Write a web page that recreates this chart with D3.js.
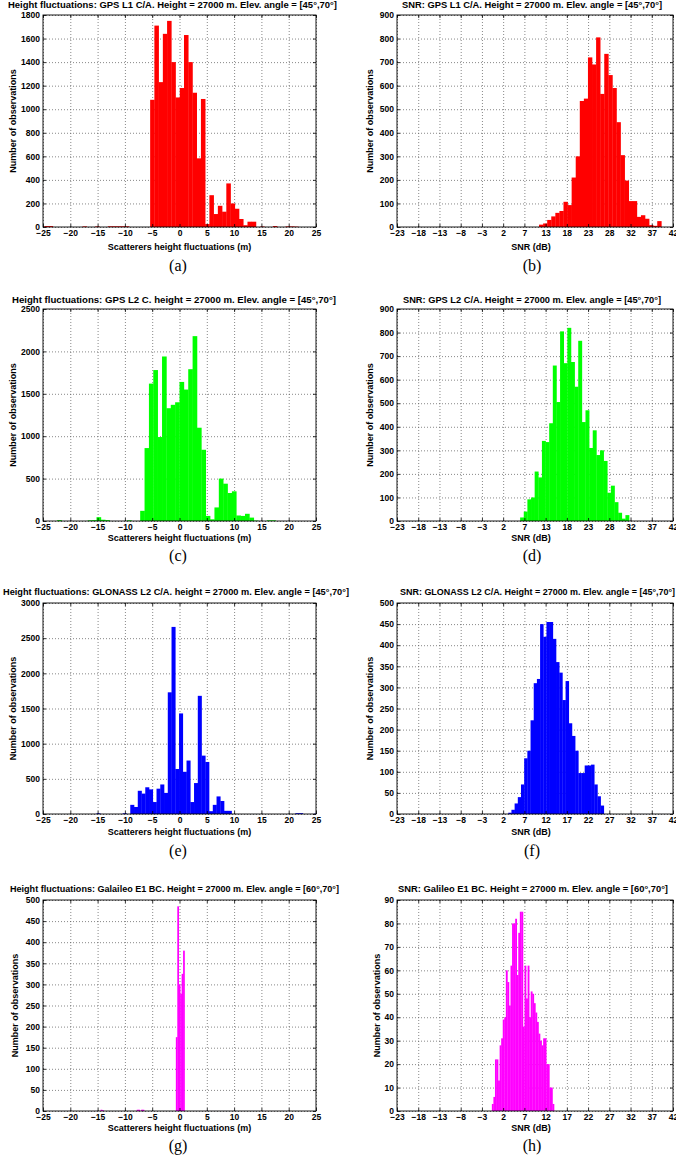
<!DOCTYPE html>
<html>
<head>
<meta charset="utf-8">
<script src="https://cdn.jsdelivr.net/npm/d3@7"></script>
<style>
  body { margin: 0; background: #fff; }
  svg text { font-family: "Liberation Sans", Arial, sans-serif; }
</style>
</head>
<body>
<script>
// ---- axis ticks ----
const heightTicks = d3.range(-25, 26, 5);
const heightLabels = ["−25", "−20", "−15", "−10", "−5", "0", "5", "10", "15", "20", "25"];
const snrTicks = d3.range(-23, 43, 5);
const snrLabelsGps = ["−23", "−18", "−13", "−8", "−3", "2", "7", "13", "18", "23", "28", "32", "37", "42"];
const snrLabelsOther = ["−23", "−18", "−13", "−8", "−3", "2", "7", "12", "17", "22", "27", "32", "37", "42"];

// ---- histograms: first bin edge, bin width, counts ----
// (a) GPS L1 height fluctuations
const aStart = -24.75, aWidth = 0.775;
const aCounts = [8, 8, 0, 0, 0, 0, 0, 0, 0, 5, 0, 0, 5, 0, 0, 6, 6, 6, 6, 6, 0, 0, 0, 0, 0,
  1080, 1710, 1230, 1640, 1750, 1400, 1100, 1180, 1630, 1400, 1140, 583, 1087, 25, 270, 110, 180, 130, 370, 200, 155, 68, 15, 45, 45,
  0, 4, 0, 0, 8, 0, 0, 5, 5, 3];
// (b) GPS L1 SNR
const bStart = 10.45, bWidth = 0.96;
const bCounts = [10, 15, 30, 45, 60, 68, 107, 93, 210, 300, 535, 545, 720, 690, 805, 565, 735, 645, 590, 445,
  305, 197, 110, 110, 43, 50, 35, 8, 5, 25];
// (c) GPS L2 height fluctuations
const cStart = -22.4, cWidth = 0.8;
const cCounts = [10, 0, 0, 0, 0, 0, 0, 8, 10, 45, 15, 10, 0, 0, 0, 0, 8, 0, 0,
  120, 860, 1620, 1780, 990, 1940, 1330, 1370, 1400, 1640, 1550, 1790, 2180, 1100, 840, 60, 20, 160, 500, 440, 330, 350, 65, 60, 85, 40,
  5, 0, 0, 8, 8];
// (d) GPS L2 SNR
const dStart = 6.0, dWidth = 0.855;
const dCounts = [15, 40, 92, 100, 210, 185, 340, 335, 415, 660, 505, 805, 670, 820, 675, 570, 765, 420, 470, 310,
  385, 280, 300, 255, 120, 150, 80, 35, 10, 25];
// (e) GLONASS L2 height fluctuations
const eStart = -15.2, eWidth = 0.687;
const eCounts = [10, 0, 0, 0, 0, 0, 0, 10, 0,
  130, 100, 330, 290, 380, 350, 170, 360, 420, 300, 1730, 2660, 640, 1430, 600, 760, 170, 440, 1680, 830, 740, 40, 130, 250, 185, 45, 45,
  0, 0, 0, 0, 0, 0, 0, 0, 0, 0, 0, 0, 0, 0, 0, 0, 0, 12, 12, 0, 0, 0, 5];
// (f) GLONASS L2 SNR
const fStart = 3.2, fWidth = 0.75;
const fCounts = [3, 10, 25, 40, 70, 132, 150, 222, 310, 320, 450, 420, 455, 455, 415, 360, 335, 270, 315, 215,
  185, 150, 97, 97, 115, 115, 117, 70, 42, 20];
// (g) Galileo E1 height fluctuations
const gStart = -14.45, gWidth = 0.265;
const gCounts = [3, 2, 0, 0, 0, 0, 0, 0, 0, 0, 0, 0, 0, 0, 0, 0, 0, 0, 0, 0, 0, 0, 0, 0, 0,
  3, 3, 0, 3, 3, 0, 0, 0, 0, 0, 0, 0, 0, 0, 0, 0, 0, 0, 0, 0, 0, 0, 0, 0, 0, 0, 0,
  175, 485, 300, 278, 325, 380];
// (h) Galileo E1 SNR
const hStart = -0.66, hWidth = 0.366;
const hCounts = [3, 6, 22, 22, 13, 28, 31, 39, 40, 60, 55, 45, 62, 80, 80, 82, 58, 76, 85, 85,
  36, 62, 48, 62, 40, 51, 50, 46, 42, 38, 33, 30, 28, 31, 31, 20, 20, 10, 10, 3];

// ---- text ----
const titles = [
  "Height fluctuations: GPS L1 C/A. Height = 27000 m. Elev. angle = [45°,70°]",
  "SNR: GPS L1 C/A. Height = 27000 m. Elev. angle = [45°,70°]",
  "Height fluctuations: GPS L2 C. height = 27000 m. Elev. angle = [45°,70°]",
  "SNR: GPS L2 C/A. Height = 27000 m. Elev. angle = [45°,70°]",
  "Height fluctuations: GLONASS L2 C/A. height = 27000 m. Elev. angle = [45°,70°]",
  "SNR: GLONASS L2 C/A. Height = 27000 m. Elev. angle = [45°,70°]",
  "Height fluctuations: Galaileo E1 BC. Height = 27000 m. Elev. angle = [60°,70°]",
  "SNR: Galileo E1 BC. Height = 27000 m. Elev. angle = [60°,70°]"
];
const letters = ["(a)", "(b)", "(c)", "(d)", "(e)", "(f)", "(g)", "(h)"];
const yMaxes = [1800, 900, 2500, 900, 3000, 500, 500, 90];
const ySteps = [200, 100, 500, 100, 500, 50, 50, 10];

// ---- layout ----
const w = 676, h = 1168;
const colLeft = [43, 397], colRight = [316, 673];
const rowTop = [15, 309, 603, 900], rowBottom = [227, 521, 814, 1111];
const titleY = [8, 303, 595, 892];
const titleCx = [172.5, 532, 174, 532, 176, 537.5, 174.5, 533];
const titleLen = [329, 260, 324, 258, 346, 275, 329, 270];
const yLabelX = [16, 373, 16, 373, 16, 373, 18, 380];
const xLabelY = [250, 541, 835, 1131];
const letterY = [271, 561, 856, 1151];
const colors = ["#ff0000", "#00ff00", "#0000ff", "#ff00ff"];

const hists = [
  [aStart, aWidth, aCounts], [bStart, bWidth, bCounts],
  [cStart, cWidth, cCounts], [dStart, dWidth, dCounts],
  [eStart, eWidth, eCounts], [fStart, fWidth, fCounts],
  [gStart, gWidth, gCounts], [hStart, hWidth, hCounts]
];

const svg = d3.select("body").append("svg")
  .attr("width", w)
  .attr("height", h);

hists.forEach(([start, binW, counts], i) => {
  const col = i % 2, row = Math.floor(i / 2);
  const left = colLeft[col], right = colRight[col];
  const top = rowTop[row], bottom = rowBottom[row];
  const isSnr = col === 1;

  const xScale = d3.scaleLinear()
    .domain(isSnr ? [-23, 42] : [-25, 25])
    .range([left, right]);
  const yScale = d3.scaleLinear()
    .domain([0, yMaxes[i]])
    .range([bottom, top]);

  const xTicks = isSnr ? snrTicks : heightTicks;
  const xLabels = isSnr ? (row < 2 ? snrLabelsGps : snrLabelsOther) : heightLabels;
  const yTicks = d3.range(0, yMaxes[i] + 1, ySteps[i]);

  const g = svg.append("g");

  // clip so bars stay inside the box
  svg.append("clipPath").attr("id", "clip" + i)
    .append("rect")
    .attr("x", left).attr("y", top)
    .attr("width", right - left).attr("height", bottom - top);

  // dotted grid
  const gx = g.append("g")
    .attr("transform", `translate(0,${bottom})`)
    .call(d3.axisBottom(xScale).tickValues(xTicks).tickSize(-(bottom - top)).tickFormat(""));
  const gy = g.append("g")
    .attr("transform", `translate(${left},0)`)
    .call(d3.axisLeft(yScale).tickValues(yTicks).tickSize(-(right - left)).tickFormat(""));
  [gx, gy].forEach(a => {
    a.select(".domain").remove();
    a.selectAll("line")
      .attr("stroke", "#555")
      .attr("stroke-width", 0.7)
      .attr("stroke-dasharray", "1,2");
  });

  // bars
  const bins = counts.map((c, k) => ({ x0: start + k * binW, x1: start + (k + 1) * binW, c: c }))
    .filter(d => d.c > 0);
  g.append("g")
    .attr("clip-path", `url(#clip${i})`)
    .selectAll("rect")
    .data(bins)
    .enter()
    .append("rect")
    .attr("x", d => xScale(d.x0))
    .attr("width", d => xScale(d.x1) - xScale(d.x0) + 0.3)
    .attr("y", d => yScale(d.c))
    .attr("height", d => bottom - yScale(d.c))
    .attr("fill", colors[row]);

  // axes with inward ticks
  const xAxis = g.append("g")
    .attr("transform", `translate(0,${bottom})`)
    .call(d3.axisBottom(xScale).tickValues(xTicks)
      .tickFormat((d, k) => xLabels[k])
      .tickSizeInner(-3).tickSizeOuter(0).tickPadding(3));
  const yAxis = g.append("g")
    .attr("transform", `translate(${left},0)`)
    .call(d3.axisLeft(yScale).tickValues(yTicks)
      .tickFormat(d3.format("d"))
      .tickSizeInner(-3).tickSizeOuter(0).tickPadding(3));
  const xTop = g.append("g")
    .attr("transform", `translate(0,${top})`)
    .call(d3.axisTop(xScale).tickValues(xTicks).tickFormat("").tickSizeInner(-3).tickSizeOuter(0));
  const yRight = g.append("g")
    .attr("transform", `translate(${right},0)`)
    .call(d3.axisRight(yScale).tickValues(yTicks).tickFormat("").tickSizeInner(-3).tickSizeOuter(0));
  [xAxis, yAxis, xTop, yRight].forEach(a => {
    a.select(".domain").remove();
    a.selectAll("line").attr("stroke", "#000").attr("stroke-width", 0.8);
    a.selectAll("text")
      .attr("font-family", '"Liberation Sans", Arial, sans-serif')
      .attr("font-size", "8.5px")
      .attr("font-weight", "bold")
      .attr("fill", "#000");
  });

  // box
  g.append("rect")
    .attr("x", left).attr("y", top)
    .attr("width", right - left).attr("height", bottom - top)
    .attr("fill", "none")
    .attr("stroke", "#000")
    .attr("stroke-width", 0.9);

  // title
  g.append("text")
    .attr("x", titleCx[i])
    .attr("y", titleY[row])
    .attr("text-anchor", "middle")
    .attr("textLength", titleLen[i])
    .attr("lengthAdjust", "spacingAndGlyphs")
    .style("font-size", "9px")
    .style("font-weight", "bold")
    .text(titles[i]);

  // y label
  g.append("text")
    .attr("transform", `translate(${yLabelX[i]},${(top + bottom) / 2}) rotate(-90)`)
    .attr("text-anchor", "middle")
    .style("font-size", "9px")
    .style("font-weight", "bold")
    .text("Number of observations");

  // x label
  g.append("text")
    .attr("x", isSnr ? 531 : (left + right) / 2)
    .attr("y", xLabelY[row])
    .attr("text-anchor", "middle")
    .style("font-size", "9px")
    .style("font-weight", "bold")
    .text(isSnr ? "SNR (dB)" : "Scatterers height fluctuations (m)");

  // panel letter
  g.append("text")
    .attr("x", isSnr ? 532 : 178)
    .attr("y", letterY[row])
    .attr("text-anchor", "middle")
    .style("font-family", '"Liberation Serif", "Times New Roman", serif')
    .style("font-size", "16px")
    .text(letters[i]);
});
</script>
</body>
</html>
